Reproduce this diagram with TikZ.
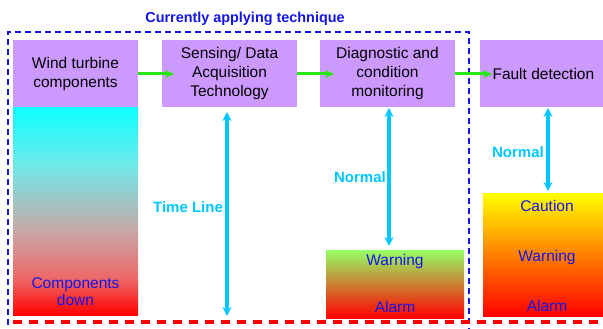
\documentclass[tikz,border=0pt]{standalone}
\usepackage{fontspec}
\setmainfont{Liberation Sans}
\usetikzlibrary{arrows.meta}
\definecolor{boxpurple}{RGB}{204,153,255}
\definecolor{tblue}{RGB}{20,20,230}
\definecolor{lcyan}{RGB}{0,200,255}
\definecolor{agreen}{RGB}{40,230,20}
\definecolor{dred}{RGB}{255,0,0}
\definecolor{lc1}{RGB}{15,255,255}
\definecolor{lc2}{RGB}{112,232,232}
\definecolor{lc3}{RGB}{200,168,168}
\definecolor{lc4}{RGB}{240,100,100}
\begin{document}
\begin{tikzpicture}[x=1pt,y=-1pt,
  boxtext/.style={align=center,font=\fontsize{15.5}{19}\selectfont,text=black},
  garrow/.style={draw=agreen,line width=3pt,-{Stealth[length=9pt,width=8pt]}},
  carrow/.style={draw=lcyan,line width=3.5pt,{Stealth[length=9pt,width=9pt]}-{Stealth[length=9pt,width=9pt]}},
  clabel/.style={text=lcyan,font=\bfseries\fontsize{15}{17}\selectfont},
  glabel/.style={text=tblue,font=\fontsize{15.5}{17}\selectfont}]
\useasboundingbox (0,0) rectangle (603,329);
% title
\node[text=tblue,font=\bfseries\fontsize{14.4}{17}\selectfont] (title) at (245,19) {Currently applying technique};
% blue dashed frame
\draw[tblue,line width=2.3pt,dash pattern=on 6pt off 4pt] (8,335) -- (8,32) -- (469,32) -- (469,335);
% purple boxes
\path[fill=boxpurple] (13,40) rectangle (138,107);
\node[boxtext] (b1) at (75.5,73.5) {Wind turbine\\components};
\path[fill=boxpurple] (162,40) rectangle (297,107);
\node[boxtext] (b2) at (229.5,73.5) {Sensing/ Data\\Acquisition\\Technology};
\path[fill=boxpurple] (320,40) rectangle (455,107);
\node[boxtext] (b3) at (387.5,73.5) {Diagnostic and\\condition\\monitoring};
\path[fill=boxpurple] (480,40) rectangle (603,107);
\node[boxtext,anchor=west] (b4) at (489,74) {Fault detection};
% gradient boxes
\shade[top color=lc1,bottom color=lc2] (13,108) rectangle (138,165.5);
\shade[top color=lc2,bottom color=lc3] (13,165) rectangle (138,230.5);
\shade[top color=lc3,bottom color=lc4] (13,230) rectangle (138,280.5);
\shade[top color=lc4,bottom color=red] (13,280) rectangle (138,315);
\shade[top color={rgb,255:red,150;green,255;blue,100},middle color={rgb,255:red,215;green,170;blue,80},bottom color=red] (326,250) rectangle (464,318);
\shade[top color=yellow,middle color={rgb,255:red,255;green,150;blue,0},bottom color=red] (483,193) rectangle (603,316);
% gradient box texts
\node[glabel,align=center] (cd) at (75.5,291.5) {Components\\down};
\node[glabel] (w1) at (395,261) {Warning};
\node[glabel] (a1) at (395,307) {Alarm};
\node[glabel] (ca) at (547,206) {Caution};
\node[glabel] (w2) at (547,257) {Warning};
\node[glabel] (a2) at (547,306) {Alarm};
% green arrows
\coordinate (g1s) at (138,74); \coordinate (g1e) at (174,74);
\coordinate (g2s) at (297,74); \coordinate (g2e) at (334,74);
\coordinate (g3s) at (455,74); \coordinate (g3e) at (492,74);
\draw[garrow] (g1s) -- (g1e);
\draw[garrow] (g2s) -- (g2e);
\draw[garrow] (g3s) -- (g3e);
% cyan arrows
\coordinate (t1) at (227,112); \coordinate (t2) at (227,316);
\coordinate (n1) at (389,108); \coordinate (n2) at (389,246);
\coordinate (m1) at (548,108); \coordinate (m2) at (548,191);
\draw[carrow] (t1) -- (t2);
\draw[carrow] (n1) -- (n2);
\draw[carrow] (m1) -- (m2);
\node[clabel] (tl) at (188,207) {Time Line};
\node[clabel] (nl1) at (360,177) {Normal};
\node[clabel] (nl2) at (518,152) {Normal};
% red dashed line
\draw[dred,line width=3.3pt,dash pattern=on 9pt off 7pt] (13,322) -- (603,322);
\end{tikzpicture}
\end{document}
